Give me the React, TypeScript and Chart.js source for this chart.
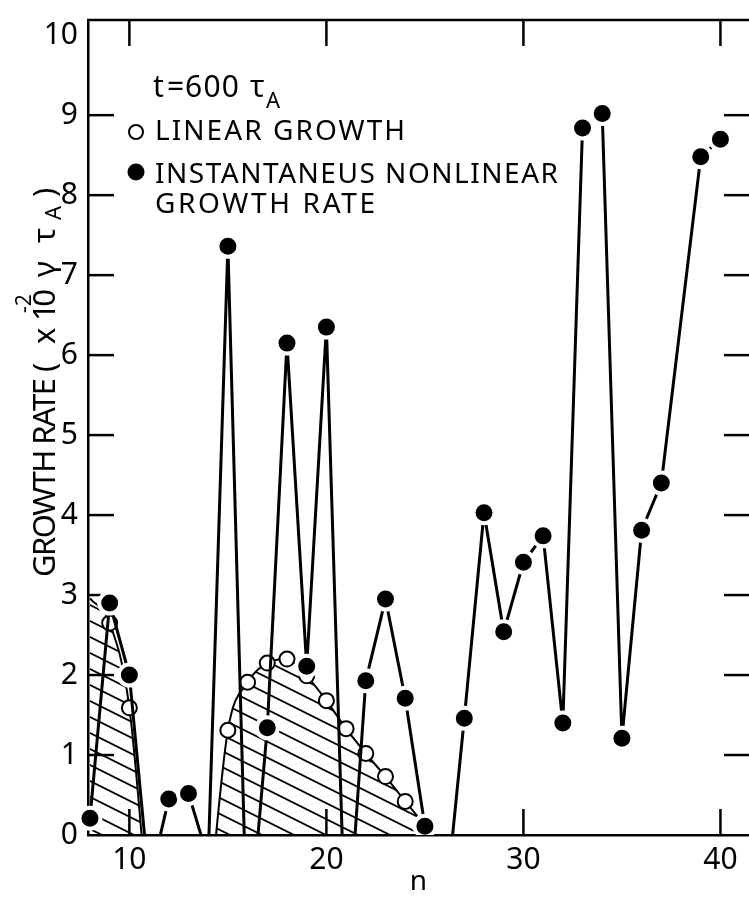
import { useEffect, useRef } from 'react';
import { Chart, registerables } from 'chart.js';

Chart.register(...registerables);

// Toroidal mode numbers n and the growth rates (units of 1e-2 / tau_A)
const modeN = [8, 9, 10, 11, 12, 13, 14, 15, 16, 17, 18, 19, 20, 21, 22, 23, 24, 25, 26, 27, 28, 29, 30, 31, 32, 33, 34, 35, 36, 37, 38, 39, 40];
// instantaneous nonlinear growth rate; negative values fall below the axis and are clipped
const nonlinearRate = [0.21, 2.9, 2.0, -0.6, 0.45, 0.52, -0.3, 7.36, -1.5, 1.34, 6.15, 2.11, 6.35, -1.6, 1.93, 2.95, 1.71, 0.11, -1.0, 1.46, 4.03, 2.54, 3.41, 3.74, 1.4, 8.84, 9.02, 1.21, 3.81, 4.4, null, 8.48, 8.7];

// linear growth rate curve (hatched region underneath)
const linearN = [8, 9, 10, 11, 12, 13, 14, 15, 16, 17, 18, 19, 20, 21, 22, 23, 24, 25, 26];
const linearRate = [2.96, 2.65, 1.59, -1.1, null, null, -1.0, 1.31, 1.91, 2.15, 2.2, 1.99, 1.68, 1.33, 1.02, 0.73, 0.42, 0.1, -0.4];
// modes where an open circle marks a computed linear rate
const linearMarkedN = [9, 10, 15, 16, 17, 18, 19, 20, 21, 22, 23, 24];

const xTickValues = [10, 20, 30, 40];
const yTickValues = [0, 1, 2, 3, 4, 5, 6, 7, 8, 9, 10];

const FONT = '"Noto Sans", "DejaVu Sans", sans-serif';
const W = 749;
const H = 899;

function hatchPattern(): CanvasPattern | string {
  const c = document.createElement('canvas');
  c.width = 32;
  c.height = 16;
  const g = c.getContext('2d');
  if (!g) return 'rgba(0,0,0,0.2)';
  g.strokeStyle = '#000';
  g.lineWidth = 1.8;
  for (const off of [-16, 0, 16]) {
    g.beginPath();
    g.moveTo(-2, off - 1);
    g.lineTo(34, off + 17);
    g.stroke();
  }
  return g.createPattern(c, 'repeat') || '#ccc';
}

function fitText(ctx: CanvasRenderingContext2D, text: string, x: number, y: number, width: number) {
  (ctx as any).letterSpacing = '0px';
  const w = ctx.measureText(text).width;
  const sp = (width - w) / Math.max(1, text.length - 1);
  (ctx as any).letterSpacing = `${sp}px`;
  ctx.fillText(text, x, y);
  (ctx as any).letterSpacing = '0px';
}

// inward tick marks on all four sides plus the top edge of the frame
const frameTicks = {
  id: 'frameTicks',
  beforeDatasetsDraw(chart: any) {
    const { ctx, chartArea: a } = chart;
    const xs = chart.scales.x;
    const ys = chart.scales.y;
    ctx.save();
    ctx.strokeStyle = '#000';
    ctx.lineWidth = 2.5;
    const seg = (x1: number, y1: number, x2: number, y2: number) => {
      ctx.beginPath();
      ctx.moveTo(x1, y1);
      ctx.lineTo(x2, y2);
      ctx.stroke();
    };
    seg(a.left - 1, a.top, a.right, a.top);
    for (const v of yTickValues) {
      if (v === 0 || v === 10) continue;
      const py = ys.getPixelForValue(v);
      seg(a.left, py, a.left + 26, py);
      seg(a.right - 25, py, a.right, py);
    }
    for (const v of xTickValues) {
      const px = xs.getPixelForValue(v);
      seg(px, a.top, px, a.top + 26);
      seg(px, a.bottom, px, a.bottom - 26);
    }
    ctx.restore();
  },
};

// axis title with super/subscripts and the in-plot key
const figureText = {
  id: 'figureText',
  afterDraw(chart: any) {
    const ctx: CanvasRenderingContext2D = chart.ctx;
    ctx.save();
    ctx.fillStyle = '#000';
    ctx.textAlign = 'left';
    ctx.textBaseline = 'alphabetic';

    // rotated y-axis title
    ctx.save();
    ctx.translate(55, 577);
    ctx.rotate(-Math.PI / 2);
    ctx.font = `31px ${FONT}`;
    fitText(ctx, 'GROWTH RATE', 0, 0, 199);
    ctx.fillText('(', 205, 0);
    ctx.fillText('x', 233, 0);
    fitText(ctx, '10', 256, 0, 32);
    ctx.font = `21px ${FONT}`;
    ctx.fillText('-2', 264, -24);
    ctx.font = `31px ${FONT}`;
    ctx.fillText('γ', 300, 0);
    ctx.fillText('τ', 334, 0);
    ctx.font = `22px ${FONT}`;
    ctx.fillText('A', 357, 6);
    ctx.font = `31px ${FONT}`;
    ctx.fillText(')', 380, 0);
    ctx.restore();

    // time label
    ctx.font = `30px ${FONT}`;
    ctx.fillText('t', 153, 97);
    ctx.fillText('=', 167, 97);
    fitText(ctx, '600', 185, 97, 54);
    ctx.fillText('τ', 250, 97);
    ctx.font = `22px ${FONT}`;
    ctx.fillText('A', 266, 108);

    // key markers
    ctx.lineWidth = 2;
    ctx.strokeStyle = '#000';
    ctx.fillStyle = '#fff';
    ctx.beginPath();
    ctx.arc(136, 132, 7, 0, Math.PI * 2);
    ctx.fill();
    ctx.stroke();
    ctx.fillStyle = '#000';
    ctx.beginPath();
    ctx.arc(136, 172, 8.5, 0, Math.PI * 2);
    ctx.fill();

    ctx.font = `28px ${FONT}`;
    fitText(ctx, 'LINEAR GROWTH', 155, 140, 250);
    fitText(ctx, 'INSTANTANEUS NONLINEAR', 155, 183, 403);
    fitText(ctx, 'GROWTH RATE', 155, 213, 220);
    ctx.restore();
  },
};

export default function App() {
  const canvasRef = useRef<HTMLCanvasElement | null>(null);

  useEffect(() => {
    // the figure fills the whole window: no page margin, no scrollbars
    const html = document.documentElement;
    const body = document.body;
    const prev = [html.style.overflow, body.style.overflow, body.style.margin];
    html.style.overflow = 'hidden';
    body.style.overflow = 'hidden';
    body.style.margin = '0';

    const canvas = canvasRef.current;
    if (!canvas) return;
    const pattern = hatchPattern();
    const clip = { left: 14, top: 14, right: 14, bottom: 0 };

    const chart = new Chart(canvas, {
      type: 'line',
      data: {
        datasets: [
          {
            label: 'INSTANTANEUS NONLINEAR GROWTH RATE',
            data: modeN.map((n, i) => ({ x: n, y: nonlinearRate[i] as any })),
            borderColor: '#000',
            borderWidth: 3,
            pointRadius: 10.5,
            pointBorderWidth: 4,
            pointBackgroundColor: '#000',
            pointBorderColor: '#fff',
            spanGaps: true,
            tension: 0,
            fill: false,
            clip,
          } as any,
          {
            label: 'LINEAR GROWTH',
            data: linearN.map((n, i) => ({ x: n, y: linearRate[i] as any })),
            borderColor: '#000',
            borderWidth: 2,
            backgroundColor: pattern as any,
            fill: 'origin',
            cubicInterpolationMode: 'monotone',
            pointRadius: (c: any) => (linearMarkedN.includes(linearN[c.dataIndex]) ? 7.5 : 0),
            pointBorderWidth: 2,
            pointBackgroundColor: '#fff',
            pointBorderColor: '#000',
            spanGaps: false,
            clip,
          } as any,
        ],
      },
      options: {
        responsive: false,
        animation: false,
        devicePixelRatio: 1,
        // the right-hand frame edge lies just past the visible window
        layout: { autoPadding: false, padding: { top: 20, left: 0, right: -3, bottom: 0 } },
        plugins: { legend: { display: false }, tooltip: { enabled: false } },
        scales: {
          x: {
            type: 'linear',
            min: 7.9,
            max: 41.45,
            afterBuildTicks: (s: any) => {
              s.ticks = xTickValues.map((v) => ({ value: v }));
            },
            afterFit: (s: any) => {
              s.height = 64;
              s.paddingLeft = 0;
              s.paddingRight = 0;
            },
            grid: { display: false, drawTicks: false },
            border: { display: true, color: '#000', width: 2.5 },
            ticks: { color: '#000', font: { family: FONT, size: 30 }, padding: 7, maxRotation: 0 },
            title: { display: true, text: 'n', color: '#000', font: { family: FONT, size: 28 }, padding: 0 },
          },
          y: {
            type: 'linear',
            min: 0,
            max: 10.19,
            afterBuildTicks: (s: any) => {
              s.ticks = yTickValues.map((v) => ({ value: v }));
            },
            afterFit: (s: any) => {
              s.width = 88;
              s.paddingTop = 0;
              s.paddingBottom = 0;
            },
            grid: { display: false, drawTicks: false },
            border: { display: true, color: '#000', width: 2.5 },
            ticks: { color: '#000', font: { family: FONT, size: 30 }, padding: 10 },
          },
        },
      },
      plugins: [frameTicks, figureText],
    });

    return () => {
      chart.destroy();
      html.style.overflow = prev[0];
      body.style.overflow = prev[1];
      body.style.margin = prev[2];
    };
  }, []);

  return (
    <div style={{ width: W, height: H, overflow: 'hidden', background: '#fff' }}>
      <canvas ref={canvasRef} width={W} height={H} style={{ display: 'block', width: W, height: H }} />
    </div>
  );
}
